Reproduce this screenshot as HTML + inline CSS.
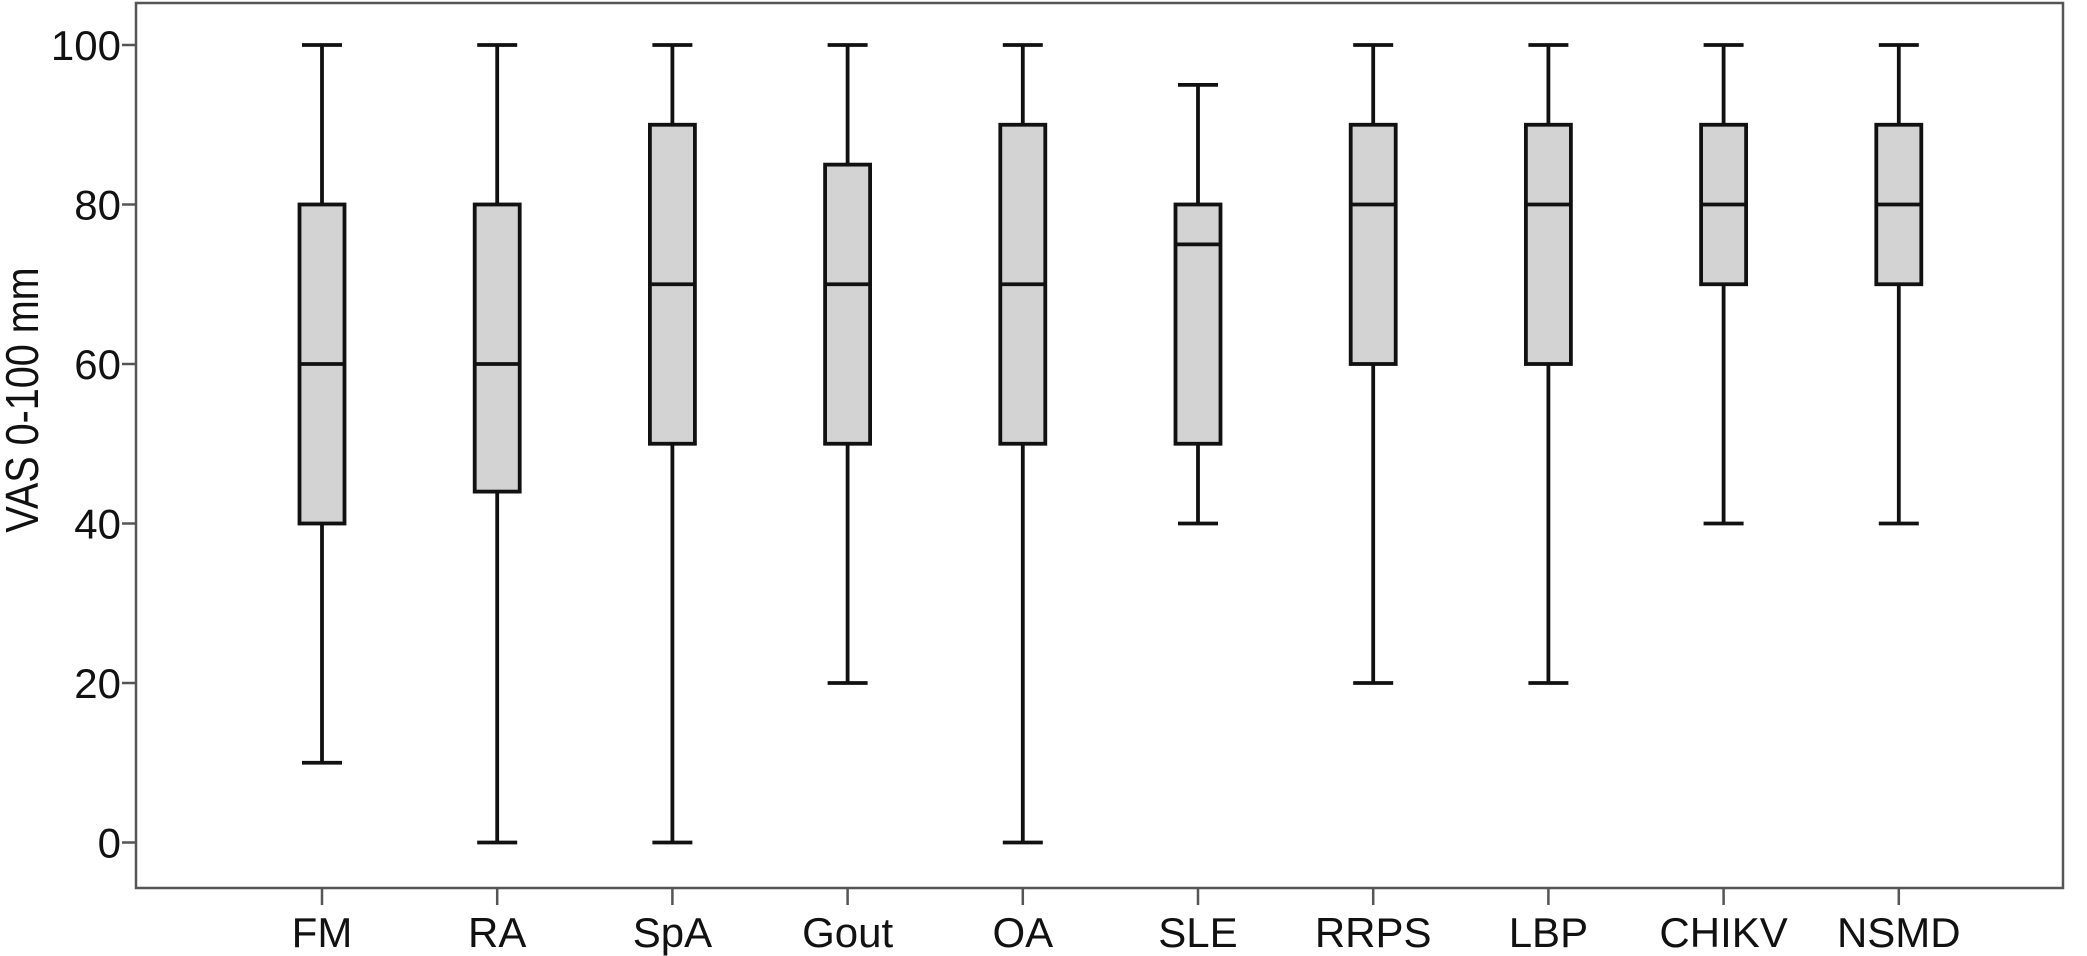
<!DOCTYPE html>
<html><head><meta charset="utf-8"><style>
html,body{margin:0;padding:0;background:#fff;}
svg{display:block;}
text{font-family:"Liberation Sans",sans-serif;fill:#111;}
</style></head><body>
<svg id="chart" width="2087" height="956">
<text transform="translate(38,400) rotate(-90) scale(0.86,1)" font-size="46" text-anchor="middle">VAS 0-100 mm</text>
</svg>
<script>
const categories=["FM","RA","SpA","Gout","OA","SLE","RRPS","LBP","CHIKV","NSMD"];
const mins=[10,0,0,20,0,40,20,20,40,40];
const q1s=[40,44,50,50,50,50,60,60,70,70];
const medians=[60,60,70,70,70,75,80,80,80,80];
const q3s=[80,80,90,85,90,80,90,90,90,90];
const maxs=[100,100,100,100,100,95,100,100,100,100];
const yTicks=[0,20,40,60,80,100];

const svg=document.getElementById('chart');
const NS='http://www.w3.org/2000/svg';
const L=136,T=3,R=2063,B=888;
const y=v=>842.5-(v/100)*797.5;
const x=i=>322+i*175.2;
function mk(tag,attrs,parent){const e=document.createElementNS(NS,tag);for(const k in attrs)e.setAttribute(k,attrs[k]);(parent||svg).appendChild(e);return e;}

const frame=mk('rect',{x:L,y:T,width:R-L,height:B-T,fill:'none',stroke:'#555','stroke-width':2.5});



yTicks.forEach(t=>{
  const ln=mk('line',{x1:L-14,x2:L,y1:y(t),y2:y(t),stroke:'#555','stroke-width':2.5});
  
  
  const tx=mk('text',{x:L-15,y:y(t)+15,'font-size':42,'text-anchor':'end'});
  tx.textContent=t;
  
  
});

categories.forEach((c,i)=>{
  const cx=x(i);
  const tk=mk('line',{x1:cx,x2:cx,y1:B,y2:B+17,stroke:'#555','stroke-width':2.5});
  
  
  const lb=mk('text',{x:cx,y:947,'font-size':42,'text-anchor':'middle'});
  lb.textContent=c;
  
  
  const g=mk('g',{stroke:'#111','stroke-width':3.8});
  
  
  mk('line',{x1:cx,x2:cx,y1:y(maxs[i]),y2:y(q3s[i])},g);
  mk('line',{x1:cx,x2:cx,y1:y(q1s[i]),y2:y(mins[i])},g);
  mk('line',{x1:cx-20,x2:cx+20,y1:y(maxs[i]),y2:y(maxs[i])},g);
  mk('line',{x1:cx-20,x2:cx+20,y1:y(mins[i]),y2:y(mins[i])},g);
  mk('rect',{x:cx-22.5,y:y(q3s[i]),width:45,height:y(q1s[i])-y(q3s[i]),fill:'#d3d3d3'},g);
  mk('line',{x1:cx-22.5,x2:cx+22.5,y1:y(medians[i]),y2:y(medians[i])},g);
});
</script>
</body></html>
